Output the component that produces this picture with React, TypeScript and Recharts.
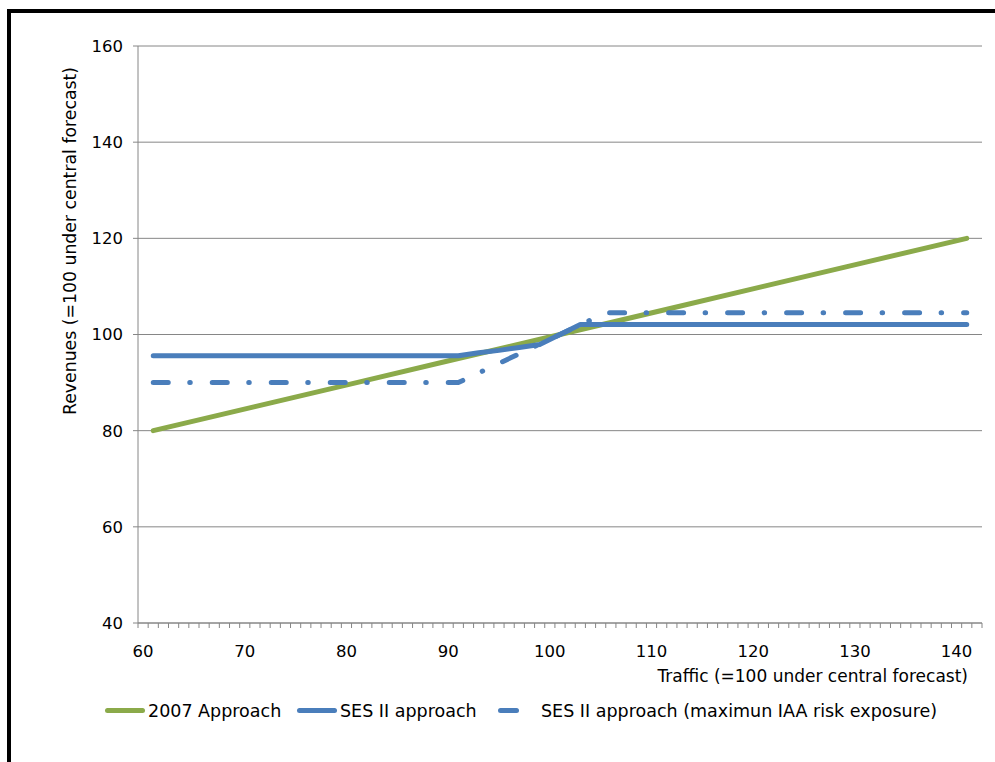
import { LineChart, Line, XAxis, YAxis, CartesianGrid } from "recharts"

// traffic index (x) and revenue index (y)
const approach2007Traffic = [61, 71, 81, 91, 101, 111, 121, 131, 141]
const approach2007Revenue = [80, 85, 90, 95, 100, 105, 110, 115, 120]

const sesTraffic = [61, 91, 93, 95, 97, 99, 101, 103, 141]
const sesRevenue = [95.6, 95.6, 96.2, 96.7, 97.3, 97.9, 100, 102.1, 102.1]

const sesMaxTraffic = [61, 91, 105.5, 141]
const sesMaxRevenue = [90, 90, 104.5, 104.5]

const xTickLabels = [60, 70, 80, 90, 100, 110, 120, 130, 140]
const yTicks = [40, 60, 80, 100, 120, 140, 160]

const GREEN = '#8BAA4A'
const BLUE = '#4A7EBB'
const GRAY = '#868686'
const FONT = '"DejaVu Sans", Verdana, sans-serif'

const toPoints = (xs: number[], ys: number[]) => xs.map((x, i) => ({ x, y: ys[i] }))

const data2007 = toPoints(approach2007Traffic, approach2007Revenue)
const dataSes = toPoints(sesTraffic, sesRevenue)
const dataSesMax = toPoints(sesMaxTraffic, sesMaxRevenue)

// minor tick marks sit between categories, labels on the categories
const minorTicks: number[] = []
for (let v = 59.5; v <= 142.5; v += 1) minorTicks.push(v)
const allXTicks = [...minorTicks, ...xTickLabels].sort((a, b) => a - b)

function XTick(props: any) {
  const { x, y, payload } = props
  const v = Number(payload.value)
  if (v % 1 !== 0) {
    return <line x1={x} x2={x} y1={y} y2={y + 5} stroke={GRAY} strokeWidth={1} />
  }
  return (
    <text x={x} y={y + 34} textAnchor="middle" fill="#000" fontSize={16.5} fontFamily={FONT}>
      {v}
    </text>
  )
}

export default function App() {
  return (
    <div style={{ position: 'absolute', left: 0, top: 0, width: 995, height: 762, background: '#fff', fontFamily: FONT, overflow: 'hidden' }}>
      {/* frame */}
      <div style={{ position: 'absolute', left: 7, top: 9, width: 988, height: 4, background: '#000' }} />
      <div style={{ position: 'absolute', left: 7, top: 9, width: 4, height: 753, background: '#000' }} />

      <div style={{ position: 'absolute', left: 0, top: 0 }}>
        <LineChart width={995} height={762} margin={{ top: 46, right: 13, bottom: 99, left: 78 }}>
          <CartesianGrid vertical={false} stroke={GRAY} strokeWidth={1} />
          <XAxis
            type="number"
            dataKey="x"
            domain={[59.5, 142.5]}
            allowDataOverflow
            ticks={allXTicks}
            interval={0}
            height={40}
            tickSize={0}
            tickMargin={0}
            tickLine={false}
            axisLine={{ stroke: GRAY }}
            tick={(p: any) => <XTick {...p} />}
          />
          <YAxis
            type="number"
            domain={[40, 160]}
            ticks={yTicks}
            interval={0}
            width={60}
            tickSize={5}
            tickMargin={10}
            tickLine={{ stroke: GRAY }}
            axisLine={{ stroke: GRAY }}
            tick={{ fill: '#000', fontSize: 16.5, fontFamily: FONT }}
          />
          <Line
            data={data2007}
            dataKey="y"
            type="linear"
            stroke={GREEN}
            strokeWidth={5}
            strokeLinecap="round"
            strokeLinejoin="round"
            dot={false}
            isAnimationActive={false}
          />
          <Line
            data={dataSes}
            dataKey="y"
            type="linear"
            stroke={BLUE}
            strokeWidth={5}
            strokeLinecap="round"
            strokeLinejoin="round"
            dot={false}
            isAnimationActive={false}
          />
          <Line
            data={dataSesMax}
            dataKey="y"
            type="linear"
            stroke={BLUE}
            strokeWidth={5}
            strokeLinecap="round"
            strokeLinejoin="round"
            strokeDasharray="15 21.5 0.5 22"
            dot={false}
            isAnimationActive={false}
          />
        </LineChart>
      </div>

      {/* axis titles */}
      <div style={{ position: 'absolute', left: 0, top: 666, width: 968, textAlign: 'right', fontSize: 17, lineHeight: '20px', color: '#000', whiteSpace: 'nowrap' }}>
        Traffic (=100 under central forecast)
      </div>
      <div style={{ position: 'absolute', left: 70, top: 241, transform: 'translate(-50%, -50%) rotate(-90deg)', fontSize: 17.3, lineHeight: '20px', color: '#000', whiteSpace: 'nowrap' }}>
        Revenues (=100 under central forecast)
      </div>

      {/* legend */}
      <div style={{ position: 'absolute', left: 105, top: 708, width: 40, height: 5, borderRadius: 2.5, background: GREEN }} />
      <div style={{ position: 'absolute', left: 148, top: 701, fontSize: 17.5, lineHeight: '20px', color: '#000', whiteSpace: 'nowrap' }}>2007 Approach</div>
      <div style={{ position: 'absolute', left: 297, top: 708, width: 40, height: 5, borderRadius: 2.5, background: BLUE }} />
      <div style={{ position: 'absolute', left: 340, top: 701, fontSize: 17.5, lineHeight: '20px', color: '#000', whiteSpace: 'nowrap' }}>SES II approach</div>
      <div style={{ position: 'absolute', left: 498, top: 708, width: 21, height: 5, borderRadius: 2.5, background: BLUE }} />
      <div style={{ position: 'absolute', left: 541, top: 701, fontSize: 17.5, lineHeight: '20px', color: '#000', whiteSpace: 'nowrap' }}>SES II approach (maximun IAA risk exposure)</div>
    </div>
  )
}
